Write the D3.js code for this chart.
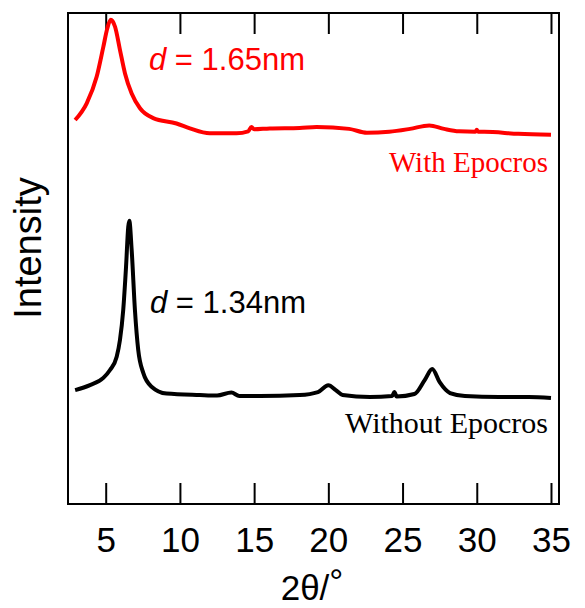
<!DOCTYPE html>
<html>
<head>
<meta charset="utf-8">
<script src="https://cdn.jsdelivr.net/npm/d3@7"></script>
<style>
	body { margin: 0; background: #fff; }
</style>
</head>
<body>
<div id="chart"></div>
<script>
// 2theta readings and stacked intensities (a.u.)
var redTheta = [2.94, 3.72, 4.39, 4.84, 5.11, 5.34, 5.63, 5.96, 6.30, 6.75, 7.31, 8.20, 9.77, 10.67, 12.01, 13.81, 14.6, 14.82, 15.0, 16.05, 18.07, 19.2, 21.4, 22.6, 24.1, 25.5, 26.8, 27.8, 28.8, 29.9, 30.0, 30.1, 30.5, 32.8, 35.0];
var redValue = [78.2, 81.6, 87.0, 93.1, 96.9, 98.6, 97.2, 92.5, 87.7, 83.6, 80.6, 78.6, 77.5, 76.5, 75.5, 75.5, 75.9, 76.8, 76.3, 76.5, 76.6, 76.8, 76.4, 75.6, 75.8, 76.4, 77.1, 76.4, 75.9, 75.8, 76.2, 75.8, 75.8, 75.4, 75.2];

var blackTheta = [2.94, 3.94, 4.84, 5.29, 5.74, 5.96, 6.18, 6.37, 6.52, 6.59, 6.75, 6.97, 7.19, 7.53, 8.09, 9.10, 11.34, 12.5, 13.47, 14.0, 15.4, 18.07, 19.3, 20.0, 20.5, 20.96, 22.8, 24.3, 24.45, 24.6, 25.8, 26.5, 27.0, 27.5, 28.2, 29.2, 31.5, 33.5, 35.0];
var blackValue = [23.2, 24.2, 25.7, 27.3, 30.0, 33.4, 39.5, 48.3, 56.5, 57.7, 51.7, 39.5, 31.4, 26.7, 23.9, 22.5, 22.2, 22.1, 22.7, 22.0, 22.0, 22.2, 22.8, 24.2, 23.2, 22.2, 21.8, 22.0, 22.8, 21.9, 22.4, 25.3, 27.5, 24.8, 22.6, 22.0, 21.8, 21.8, 21.6];

var xTicks = [5, 10, 15, 20, 25, 30, 35];

(function(){
	var width = 585,
		height = 608;
	var left = 68, right = 559, top = 13, bottom = 504;
	var sans = "Arial, 'Liberation Sans', sans-serif",
		serif = "'Times New Roman', 'Liberation Serif', serif";

	var svg = d3.select("#chart")
		.append("svg")
		.attr("width", width)
		.attr("height", height)
		.style("font-family", sans);

	var x = d3.scaleLinear().domain([2.46, 35.54]).range([left, right]);
	var y = d3.scaleLinear().domain([0, 100]).range([bottom, top]);

	// ticks, inward, top and bottom
	var bottomAxis = svg.append("g")
		.attr("transform", "translate(0," + bottom + ")")
		.call(d3.axisBottom(x).tickValues(xTicks).tickSize(-21).tickPadding(23));
	bottomAxis.select(".domain").remove();
	bottomAxis.selectAll("line").attr("stroke", "#000").attr("stroke-width", 2);
	bottomAxis.selectAll("text")
		.attr("fill", "#000")
		.style("font-size", "35px")
		.style("font-family", sans);

	var topAxis = svg.append("g")
		.attr("transform", "translate(0," + top + ")")
		.call(d3.axisTop(x).tickValues(xTicks).tickSize(-21).tickFormat(""));
	topAxis.select(".domain").remove();
	topAxis.selectAll("line").attr("stroke", "#000").attr("stroke-width", 2);

	// frame
	svg.append("rect")
		.attr("x", left)
		.attr("y", top)
		.attr("width", right - left)
		.attr("height", bottom - top)
		.attr("fill", "none")
		.attr("stroke", "#000")
		.attr("stroke-width", 2);

	var line = d3.line()
		.x(function(d){ return x(d[0]); })
		.y(function(d){ return y(d[1]); })
		.curve(d3.curveMonotoneX);

	svg.append("path")
		.datum(d3.zip(redTheta, redValue))
		.attr("d", line)
		.attr("fill", "none")
		.attr("stroke", "#ff0000")
		.attr("stroke-width", 4)
		.attr("stroke-linejoin", "round");

	svg.append("path")
		.datum(d3.zip(blackTheta, blackValue))
		.attr("d", line)
		.attr("fill", "none")
		.attr("stroke", "#000")
		.attr("stroke-width", 4)
		.attr("stroke-linejoin", "round");

	// d-spacing notes
	var note1 = svg.append("text")
		.attr("x", 149).attr("y", 70)
		.style("font-size", "31px")
		.attr("fill", "#ff0000");
	note1.append("tspan").style("font-style", "italic").text("d");
	note1.append("tspan").text(" = 1.65nm");

	var note2 = svg.append("text")
		.attr("x", 150).attr("y", 313)
		.style("font-size", "31px")
		.attr("fill", "#000");
	note2.append("tspan").style("font-style", "italic").text("d");
	note2.append("tspan").text(" = 1.34nm");

	svg.append("text")
		.attr("x", 548).attr("y", 172)
		.attr("text-anchor", "end")
		.style("font-family", serif)
		.style("font-size", "29px")
		.attr("fill", "#ff0000")
		.text("With Epocros");

	svg.append("text")
		.attr("x", 548).attr("y", 433)
		.attr("text-anchor", "end")
		.style("font-family", serif)
		.style("font-size", "30px")
		.attr("fill", "#000")
		.text("Without Epocros");

	// axis titles
	var xt = svg.append("text")
		.attr("x", 312).attr("y", 600)
		.attr("text-anchor", "middle")
		.style("font-size", "35px")
		.attr("fill", "#000");
	xt.append("tspan").text("2θ/");
	xt.append("tspan").attr("dy", -6).text("°");

	svg.append("text")
		.attr("transform", "translate(41,248) rotate(-90)")
		.attr("text-anchor", "middle")
		.style("font-size", "38px")
		.attr("fill", "#000")
		.text("Intensity");
})();
</script>
</body>
</html>
